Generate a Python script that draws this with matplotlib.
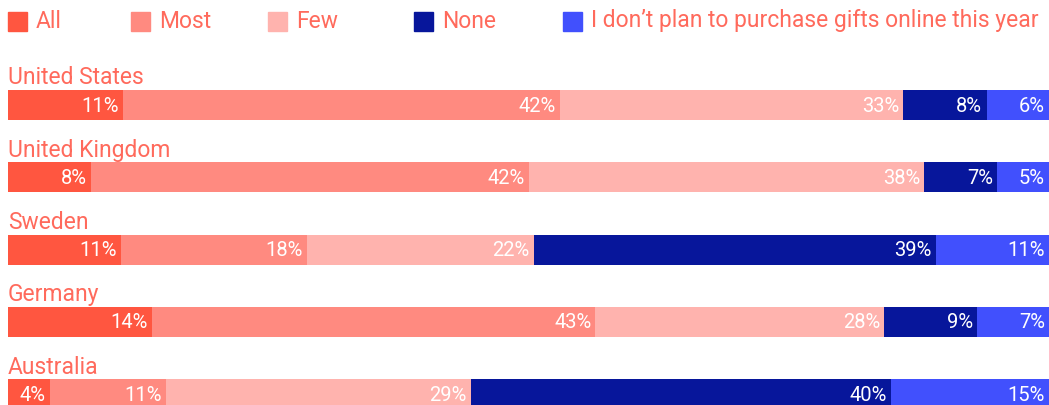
import matplotlib.pyplot as plt
from matplotlib.patches import Rectangle

plt.rcParams['font.family'] = ['Roboto', 'DejaVu Sans']

countries = ['United States', 'United Kingdom', 'Sweden', 'Germany', 'Australia']
categories = ['All', 'Most', 'Few', 'None', 'I don\u2019t plan to purchase gifts online this year']
all_ = [11, 8, 11, 14, 4]
most = [42, 42, 18, 43, 11]
few = [33, 38, 22, 28, 29]
none = [8, 7, 39, 9, 40]
no_plan = [6, 5, 11, 7, 15]

colors = ['#ff5640', '#ff8a80', '#ffb3ae', '#07169b', '#4150fd']
text_col = '#ff6a5c'

series = [all_, most, few, none, no_plan]

fig = plt.figure(figsize=(10.49, 4.06), dpi=100)
W, H = 1049, 406
ax = fig.add_axes([8 / W, 0, (W - 8) / W, 1])
ax.set_xlim(0, 100)
pitch = 72.3
ax.set_ylim((H - 106) / pitch, -106 / pitch)
ax.axis('off')

for i, c in enumerate(countries):
    total = sum(s[i] for s in series)
    left = 0
    for s, col in zip(series, colors):
        w = s[i] / total * 100
        ax.annotate(f'{s[i]}%', (left + w, i), xytext=(-3, 0), textcoords='offset points',
                    ha='right', va='center', color='white', fontsize=14.5)
        ax.barh(i, w, left=left, height=30 / pitch, color=col, edgecolor='none', zorder=0)
        left += w
    ax.text(0, i - 28 / pitch, c, ha='left', va='center', color=text_col,
            fontsize=16.5)

# legend drawn by hand
leg_x = [8, 131, 268, 414, 563]
for x, lab, col in zip(leg_x, categories, colors):
    fig.patches.append(Rectangle((x / W, 1 - 32 / H), 19 / W, 19 / H,
                                 transform=fig.transFigure, color=col))
    fig.text((x + 28) / W, 1 - 21 / H, lab, ha='left', va='center', color=text_col,
             fontsize=16.5)

plt.savefig('out.png', dpi=100)
